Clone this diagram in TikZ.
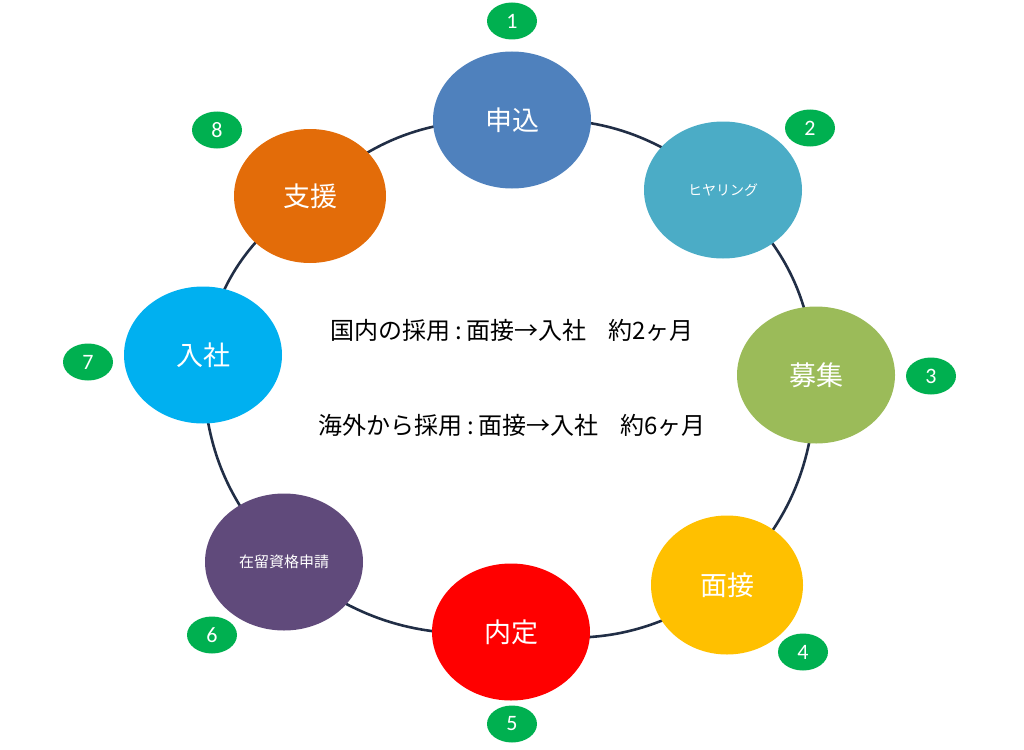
\documentclass[tikz,border=0pt]{standalone}
\usepackage{fontspec}
\setmainfont{Noto Sans CJK JP}
\newfontfamily\numfont{Carlito}
\usetikzlibrary{shapes.geometric,backgrounds}

\definecolor{ringline}{RGB}{33,46,70}
\definecolor{badgegreen}{RGB}{0,176,80}
\definecolor{cApply}{RGB}{79,129,189}
\definecolor{cHearing}{RGB}{75,172,198}
\definecolor{cRecruit}{RGB}{155,187,89}
\definecolor{cInterview}{RGB}{255,192,0}
\definecolor{cOffer}{RGB}{255,0,0}
\definecolor{cVisa}{RGB}{96,74,123}
\definecolor{cJoin}{RGB}{0,176,240}
\definecolor{cSupport}{RGB}{227,108,9}

\tikzset{
  stage/.style={ellipse, minimum width=158pt, minimum height=137pt, inner sep=0pt,
    text=white, font=\fontsize{27}{30}\selectfont},
  badge/.style={ellipse, fill=badgegreen, minimum width=50pt, minimum height=37pt,
    inner sep=0pt, text=white, font=\numfont\fontsize{22}{24}\selectfont},
  ring/.style={draw=ringline, line width=2.6pt},
  note/.style={font=\fontsize{24}{28}\selectfont}
}

\begin{document}
\begin{tikzpicture}[x=1pt,y=-1pt]
  \useasboundingbox (0,0) rectangle (1024,749);

  \node[stage, fill=cApply] (apply) at (512,120) {申込};
  \node[stage, fill=cHearing, font=\fontsize{14}{16}\selectfont] (hearing) at (723,190) {ヒヤリング};
  \node[stage, fill=cRecruit] (recruit) at (816,375) {募集};
  \node[stage, fill=cInterview, minimum width=152pt, minimum height=139pt] (interview) at (727,585) {面接};
  \node[stage, fill=cOffer] (offer) at (511,632) {内定};
  \node[stage, fill=cVisa, font=\fontsize{15}{17}\selectfont] (visa) at (284,562) {在留資格申請};
  \node[stage, fill=cJoin] (join) at (203,355) {入社};
  \node[stage, fill=cSupport, minimum width=152pt, minimum height=134pt] (support) at (310,196) {支援};

  % ring behind the stages
  \begin{scope}[on background layer]
    \foreach \a/\b in {apply/hearing, hearing/recruit, recruit/interview, interview/offer,
                       offer/visa, visa/join, join/support, support/apply}
      \draw[ring] (\a.center) to[bend left=22] (\b.center);
  \end{scope}

  \node[badge] (n1) at (512,21) {1};
  \node[badge] (n2) at (810,128) {2};
  \node[badge] (n3) at (931,376) {3};
  \node[badge] (n4) at (803,652) {4};
  \node[badge] (n5) at (512,724) {5};
  \node[badge] (n6) at (212,635) {6};
  \node[badge] (n7) at (88,362) {7};
  \node[badge] (n8) at (217,130) {8};

  \node[note] (domestic) at (512,330) {国内の採用\hspace{0.2em}:\hspace{0.2em}面接→入社\hspace{0.9em}約2ヶ月};
  \node[note] (overseas) at (512,425) {海外から採用\hspace{0.2em}:\hspace{0.2em}面接→入社\hspace{0.9em}約6ヶ月};
\end{tikzpicture}
\end{document}
